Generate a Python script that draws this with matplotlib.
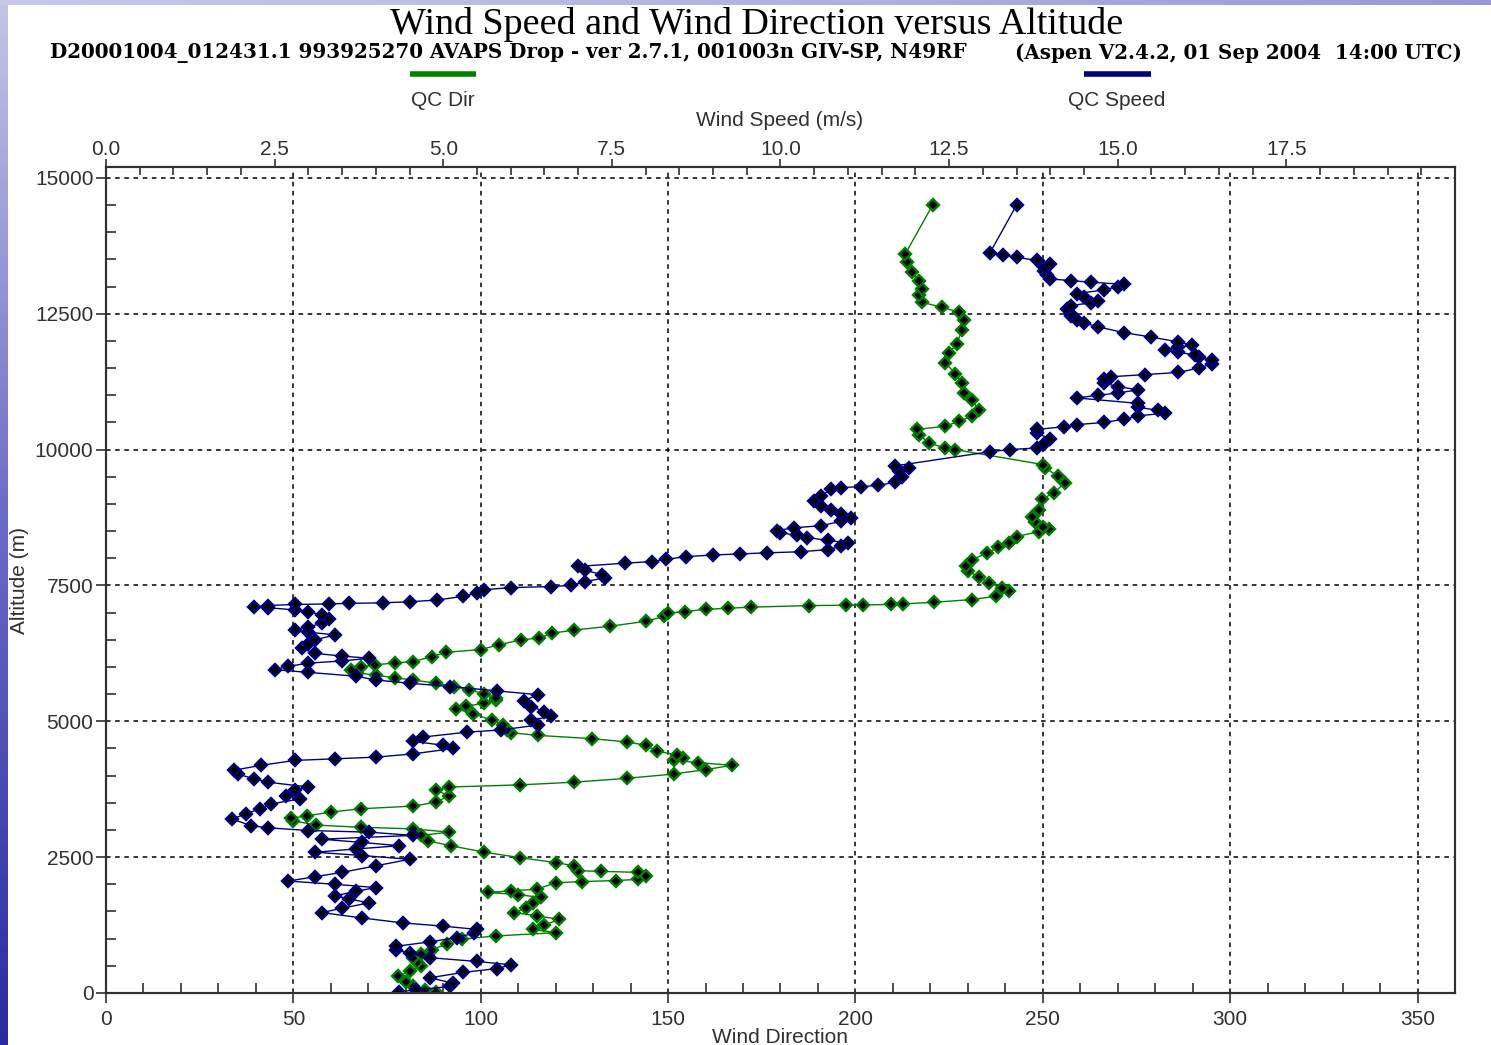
import numpy as np
import matplotlib
matplotlib.use("Agg")
import matplotlib.pyplot as plt
from matplotlib.ticker import MultipleLocator, FormatStrFormatter

plt.rcParams['font.family'] = ['Liberation Sans', 'DejaVu Sans']

# QC wind speed profile (altitude m, speed m/s)
spd_alt = [20, 60, 120, 180, 280, 380, 450, 520, 580, 650, 730, 800, 860, 940, 1020, 1100,
           1170, 1230, 1290, 1380, 1480, 1560, 1660, 1730, 1790, 1870, 1940, 2000, 2060, 2140,
           2220, 2340, 2460, 2530, 2590, 2650, 2710, 2770, 2830, 2900, 2960, 2990, 3040, 3080,
           3200, 3300, 3390, 3480, 3570, 3630, 3730, 3790, 3880, 3940, 4030, 4100, 4190, 4280,
           4310, 4340, 4400, 4500, 4560, 4630, 4710, 4800, 4840, 4930, 5020, 5090, 5180, 5270,
           5380, 5490, 5560, 5640, 5700, 5760, 5830, 5900, 5950, 6010, 6070, 6110, 6160, 6200,
           6250, 6340, 6420, 6500, 6590, 6640, 6680, 6740, 6800, 6880, 6960, 7010, 7050, 7090,
           7110, 7130, 7150, 7160, 7170, 7180, 7200, 7230, 7300, 7360, 7420, 7460, 7480, 7500,
           7570, 7640, 7700, 7780, 7850, 7910, 7940, 7980, 8030, 8060, 8080, 8100, 8120, 8160,
           8220, 8280, 8330, 8380, 8420, 8470, 8510, 8560, 8600, 8680, 8750, 8820, 8880, 8960,
           9060, 9150, 9270, 9300, 9320, 9340, 9400, 9500, 9600, 9660, 9700, 9960, 10000, 10030,
           10100, 10200, 10300, 10370, 10420, 10460, 10500, 10560, 10620, 10670, 10720, 10780,
           10850, 10950, 11000, 11040, 11100, 11160, 11220, 11300, 11340, 11380, 11420, 11500,
           11580, 11640, 11700, 11740, 11790, 11830, 11880, 11920, 11980, 12070, 12150, 12260,
           12330, 12380, 12450, 12500, 12580, 12650, 12700, 12740, 12800, 12870, 12940, 13000,
           13040, 13080, 13110, 13140, 13220, 13290, 13360, 13420, 13480, 13540, 13580, 13610,
           14500]
spd_val = [4.35, 4.6, 5.1, 5.15, 4.8, 5.3, 5.8, 6.0, 5.5, 4.8, 4.5, 4.3, 4.3, 4.8, 5.2, 5.45,
           5.5, 5.0, 4.4, 3.8, 3.2, 3.5, 3.9, 3.6, 3.4, 3.7, 4.0, 3.4, 2.7, 3.1,
           3.5, 4.0, 4.5, 3.8, 3.1, 3.7, 4.35, 3.8, 3.2, 4.55, 3.9, 3.0, 2.4, 2.15,
           1.87, 2.08, 2.28, 2.45, 2.87, 2.67, 2.8, 3.0, 2.4, 2.2, 1.95, 1.9, 2.3, 2.8,
           3.4, 4.0, 4.55, 5.15, 5.0, 4.55, 4.7, 5.35, 5.85, 6.4, 6.3, 6.6, 6.5, 6.3,
           6.2, 6.4, 5.8, 5.1, 4.5, 4.0, 3.7, 3.0, 2.5, 2.7, 3.0, 3.5, 3.9, 3.5,
           3.1, 2.9, 3.0, 3.1, 3.4, 3.0, 2.8, 3.0, 3.2, 3.3, 3.2, 3.0, 2.8, 2.4,
           2.2, 2.4, 2.8, 3.3, 3.6, 4.1, 4.5, 4.9, 5.3, 5.5, 5.6, 6.0, 6.6, 6.9,
           7.1, 7.4, 7.35, 7.1, 7.0, 7.7, 8.1, 8.3, 8.6, 9.0, 9.4, 9.8, 10.3, 10.7,
           10.9, 11.0, 10.7, 10.4, 10.25, 10.0, 9.95, 10.2, 10.6, 10.9, 11.05, 10.9, 10.75, 10.6,
           10.5, 10.6, 10.75, 10.9, 11.2, 11.45, 11.7, 11.8, 11.75, 11.9, 11.7, 13.1, 13.4, 13.8,
           13.9, 14.0, 13.8, 13.8, 14.2, 14.4, 14.8, 15.1, 15.3, 15.7, 15.6, 15.3,
           15.3, 14.4, 14.7, 15.0, 15.3, 15.0, 14.8, 14.8, 14.9, 15.4, 15.9, 16.2,
           16.4, 16.4, 16.2, 16.15, 15.9, 15.7, 15.9, 16.1, 15.9, 15.5, 15.1, 14.7,
           14.5, 14.4, 14.3, 14.3, 14.25, 14.3, 14.6, 14.7, 14.5, 14.4, 14.8, 15.0,
           15.1, 14.6, 14.3, 14.0, 13.95, 13.9, 13.9, 14.0, 13.8, 13.5, 13.3, 13.1,
           13.5]

# QC wind direction profile (altitude m, direction deg)
dir_alt = [20, 60, 120, 200, 310, 400, 490, 570, 650, 720, 800, 900, 990, 1050, 1110, 1170,
           1250, 1355, 1420, 1480, 1560, 1660, 1760, 1810, 1850, 1880, 1910, 2030, 2050, 2070,
           2090, 2150, 2220, 2240, 2250, 2340, 2400, 2490, 2590, 2710, 2800, 2900, 2960, 3020,
           3050, 3090, 3170, 3215, 3260, 3330, 3390, 3440, 3510, 3630, 3730, 3790, 3830, 3880,
           3950, 4030, 4110, 4190, 4240, 4280, 4320, 4380, 4450, 4560, 4620, 4680, 4740, 4790,
           4840, 4930, 5020, 5140, 5230, 5280, 5330, 5400, 5430, 5500, 5580, 5640, 5700, 5760,
           5800, 5850, 5890, 5950, 6000, 6040, 6070, 6100, 6190, 6270, 6320, 6410, 6500, 6530,
           6620, 6680, 6750, 6840, 6930, 6990, 7020, 7060, 7080, 7100, 7130, 7135, 7140, 7150,
           7160, 7190, 7240, 7300, 7390, 7460, 7540, 7660, 7760, 7850, 7970, 8090, 8200, 8280,
           8400, 8490, 8540, 8580, 8660, 8760, 8890, 9085, 9210, 9390, 9510, 9660, 9725, 10000,
           10030, 10120, 10275, 10370, 10430, 10520, 10610, 10730, 10915, 11040, 11220, 11400,
           11590, 11770, 11950, 12200, 12380, 12530, 12620, 12710, 12840, 12960, 13110, 13260,
           13450, 13600, 14500]
dir_val = [88, 85, 82, 80, 78, 81, 84, 83, 82, 84, 87, 91, 95, 104, 120, 114,
           117, 121, 115, 109, 112, 114, 116, 110, 102, 108, 115, 120, 127, 136,
           142, 144, 142, 132, 126, 125, 120, 110.6, 101, 92, 86, 84, 91.6, 82,
           68, 56, 50, 49.3, 53.6, 60, 68, 82, 88, 91.6, 88, 91.6, 110.6, 125,
           139, 151.5, 160, 167, 158, 151.5, 154, 152.5, 147, 144, 139, 129.7, 115.4, 108,
           107, 106, 103, 98, 93.5, 96, 101, 104, 104, 101, 97, 93, 88, 82,
           77, 72, 67, 65.5, 68, 71.7, 77, 82, 87, 90.8, 100, 105, 110.8, 115.5,
           119, 125, 134.6, 144, 149, 150, 154.6, 160, 166, 172, 187.7, 197.5, 202, 209.5,
           212.6, 221, 231, 237.5, 241, 239, 235.7, 233, 230, 229.5, 231, 235, 238, 241,
           243, 249, 251.6, 250, 248, 247, 249, 249.8, 253, 256, 254, 250.7, 250, 226.7,
           224, 219.6, 217, 216.5, 224, 227.6, 231, 233, 231, 229, 228.5, 226.7,
           224, 225, 227, 228.5, 229, 227.6, 223, 217.8, 217, 217.8, 217, 215,
           213.8, 213.3, 220.6]

dir_ticks = [0, 50, 100, 150, 200, 250, 300, 350]
spd_ticks = [0.0, 2.5, 5.0, 7.5, 10.0, 12.5, 15.0, 17.5]
alt_ticks = [0, 2500, 5000, 7500, 10000, 12500, 15000]

NAVY = '#000080'
GREEN = '#008000'
W, H = 1491, 1045

fig = plt.figure(figsize=(W / 100, H / 100), dpi=100, facecolor='white')

# slide background strips
bg_left = fig.add_axes([0, 0, 8 / W, 1])
bg_left.imshow(np.linspace(0, 1, 200).reshape(-1, 1), aspect='auto',
               cmap=matplotlib.colors.LinearSegmentedColormap.from_list('s', ['#c4c4e6', '#6a6ac8', '#2a2aa0']))
bg_left.axis('off')
bg_top = fig.add_axes([0, 1 - 5 / H, 1, 5 / H])
bg_top.imshow(np.linspace(0, 1, 200).reshape(1, -1), aspect='auto',
              cmap=matplotlib.colors.LinearSegmentedColormap.from_list('t', ['#c8c8ea', '#b4b4e2', '#9898d6']))
bg_top.axis('off')

x0, x1 = 106 / W, 1455 / W
y0, y1 = 1 - 993 / H, 1 - 167 / H
ax = fig.add_axes([x0, y0, x1 - x0, y1 - y0])
ax.set_xlim(0, 360)
ax.set_ylim(0, 15200)
ax.set_xticks(dir_ticks)
ax.xaxis.set_minor_locator(MultipleLocator(10))
ax.set_yticks(alt_ticks)
ax.yaxis.set_minor_locator(MultipleLocator(500))
ax.grid(True, which='major', color='black', ls=(0, (3, 3)), lw=1.1)
ax.tick_params(which='major', direction='out', length=7, width=1.2, labelsize=15,
               colors='#303030', pad=2)
ax.tick_params(axis='x', which='major', pad=5)
ax.tick_params(which='minor', direction='in', length=7, width=1.2, colors='#303030')
ax.tick_params(axis='x', which='both', top=False)
ax.tick_params(axis='y', which='both', right=False)
for s in ax.spines.values():
    s.set_linewidth(1.5)
    s.set_color('#303030')

ax2 = ax.twiny()
ax2.set_xlim(0, 20)
ax2.set_xticks(spd_ticks)
ax2.xaxis.set_major_formatter(FormatStrFormatter('%.1f'))
ax2.xaxis.set_minor_locator(MultipleLocator(0.5))
ax2.tick_params(which='major', direction='out', length=6, width=1.2, labelsize=15,
                colors='#303030', pad=0)
ax2.tick_params(which='minor', direction='in', length=6, width=1.2, colors='#303030')
for s in ax2.spines.values():
    s.set_linewidth(1.5)
    s.set_color('#303030')

mk = dict(marker='D', markersize=6, markerfacecolor='black', markeredgewidth=1.7, lw=1.0)
ax.plot(dir_val, dir_alt, color=GREEN, markeredgecolor=GREEN, **mk)
ax2.plot(spd_val, spd_alt, color=NAVY, markeredgecolor=NAVY, **mk)

# titles and labels
fig.text(757 / W, 1 - 25 / H, 'Wind Speed and Wind Direction versus Altitude',
         family='Liberation Serif', fontsize=27.4, ha='center', va='center', color='black')
fig.text(50 / W, 1 - 53 / H,
         'D20001004_012431.1 993925270 AVAPS Drop - ver 2.7.1, 001003n GIV-SP, N49RF',
         family='DejaVu Serif', fontweight='bold', fontsize=14.3, ha='left', va='center')
fig.text(1462 / W, 1 - 53 / H, '(Aspen V2.4.2, 01 Sep 2004  14:00 UTC)',
         family='DejaVu Serif', fontweight='bold', fontsize=14.3, ha='right', va='center')

# legend bars
fig.add_artist(plt.Line2D([410 / W, 476 / W], [1 - 74.5 / H] * 2, color=GREEN, lw=4,
                          solid_capstyle='butt', transform=fig.transFigure))
fig.add_artist(plt.Line2D([1084 / W, 1151 / W], [1 - 74.5 / H] * 2, color=NAVY, lw=4,
                          solid_capstyle='butt', transform=fig.transFigure))
fig.text(443 / W, 1 - 101 / H, 'QC Dir', fontsize=15, ha='center', va='center', color='#303030')
fig.text(1117 / W, 1 - 101 / H, 'QC Speed', fontsize=15, ha='center', va='center', color='#303030')
fig.text(780 / W, 1 - 121 / H, 'Wind Speed (m/s)', fontsize=15, ha='center', va='center', color='#303030')
fig.text(780 / W, 1 - 1043 / H, 'Wind Direction', fontsize=15, ha='center', va='baseline', color='#303030')
fig.text(20 / W, 1 - 580 / H, 'Altitude (m)', fontsize=15, rotation=90, ha='center', va='center',
         color='#303030')

fig.savefig('out.png', dpi=100, facecolor='white')
